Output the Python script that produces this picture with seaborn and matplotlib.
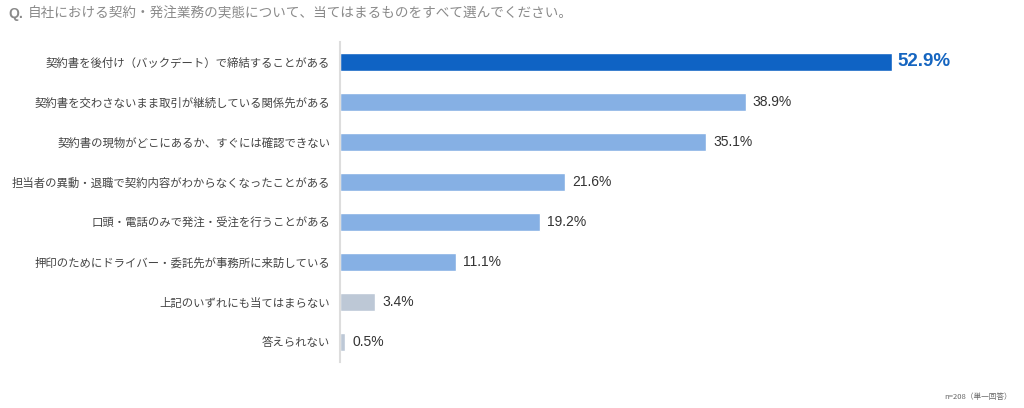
import matplotlib
matplotlib.use('Agg')
import matplotlib.pyplot as plt
import seaborn as sns
import pandas as pd

categories = [
    '契約書を後付け（バックデート）で締結することがある',
    '契約書を交わさないまま取引が継続している関係先がある',
    '契約書の現物がどこにあるか、すぐには確認できない',
    '担当者の異動・退職で契約内容がわからなくなったことがある',
    '口頭・電話のみで発注・受注を行うことがある',
    '押印のためにドライバー・委託先が事務所に来訪している',
    '上記のいずれにも当てはまらない',
    '答えられない',
]
values = [52.9, 38.9, 35.1, 21.6, 19.2, 11.1, 3.4, 0.5]
bar_colors = ['#0f63c4'] + ['#86b0e4'] * 5 + ['#bdc8d6'] * 2

title = '自社における契約・発注業務の実態について、当てはまるものをすべて選んでください。'
note = 'n=208（単一回答）'


def main():
    sns.set_style('white')
    plt.rcParams['font.family'] = ['Noto Sans CJK JP', 'DejaVu Sans']

    df = pd.DataFrame({'label': categories, 'value': values})

    fig = plt.figure(figsize=(10.24, 4.08), dpi=100)
    ax = fig.add_axes([340 / 1024, 1 - 362 / 408, (1024 - 340) / 1024, 320 / 408])

    sns.barplot(data=df, x='value', y='label', hue='label', palette=bar_colors,
                legend=False, width=0.46, saturation=1, ax=ax, orient='h')

    ax.set_xlim(0, 65.6)
    ax.set_ylim(7.5, -0.5)
    ax.set_xlabel('')
    ax.set_ylabel('')
    ax.set_xticks([])
    for s in ['top', 'right', 'bottom']:
        ax.spines[s].set_visible(False)
    ax.spines['left'].set_color('#dddddd')
    ax.spines['left'].set_linewidth(1.5)
    ax.tick_params(axis='y', length=0, pad=7)
    for t in ax.get_yticklabels():
        t.set_fontsize(8.2)
        t.set_color('#444444')

    for i, v in enumerate(values):
        if i == 0:
            ax.text(v + 0.6, i, f'{v:.1f}%', va='center', ha='left',
                    fontsize=13.5, fontweight='bold', color='#1565c0',
                    family=['Liberation Sans', 'DejaVu Sans'])
        else:
            ax.text(v + 0.7, i, f'{v:.1f}%', va='center', ha='left',
                    fontsize=10, color='#333333',
                    family=['Liberation Sans', 'DejaVu Sans'])

    fig.text(8 / 1024, 1 - 14 / 408, 'Q.', fontsize=10, color='#8a8a8a',
             fontweight='bold', va='center', ha='left',
             family=['Liberation Sans', 'DejaVu Sans'])
    fig.text(28 / 1024, 1 - 14 / 408, title, fontsize=9.8, color='#8a8a8a',
             va='center', ha='left')
    fig.text(1012 / 1024, 1 - 397 / 408, note, fontsize=5.5, color='#666666',
             va='center', ha='right')

    fig.savefig('out.png', dpi=100)
    plt.close(fig)


if __name__ == '__main__':
    main()
